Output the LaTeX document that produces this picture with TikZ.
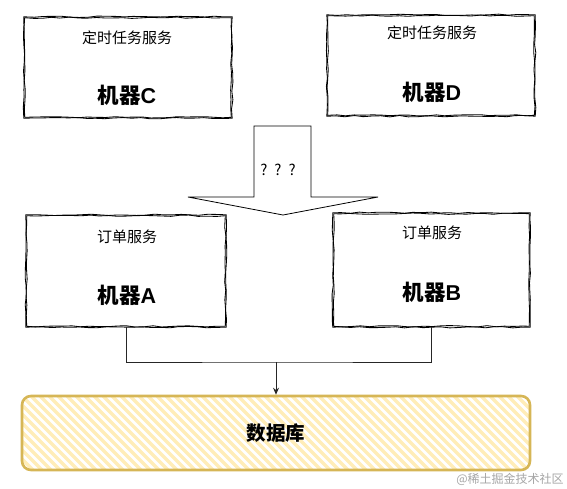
\documentclass[tikz,border=0pt]{standalone}
\usepackage{fontspec}
\setmainfont{Noto Sans CJK SC}
\newfontfamily\latf{Liberation Sans}
\usetikzlibrary{decorations.pathmorphing, arrows.meta}
\definecolor{dbline}{HTML}{D6B656}
\definecolor{stripe}{HTML}{FFEDB8}
\tikzset{
  box/.style={rectangle, draw=none, inner sep=0pt},
  sketch/.style={draw=black, line width=0.85pt, decorate, decoration={random steps, segment length=9pt, amplitude=0.7pt}},
  smalltxt/.style={font=\fontsize{15}{17}\selectfont, inner sep=0pt},
  bigtxt/.style={font=\fontsize{21.5}{25}\selectfont\bfseries, inner sep=0pt},
  conn/.style={draw=black!85, line width=0.9pt},
}
\pgfmathsetseed{7}
\begin{document}
\begin{tikzpicture}[x=1pt,y=-1pt]
\useasboundingbox (0,0) rectangle (567,488);
\fill[white] (0,0) rectangle (567,488);

% boxes
\node[box, minimum width=208pt, minimum height=101pt] (C) at (128,67.5) {};
\node[box, minimum width=208pt, minimum height=101pt] (D) at (431,65.5) {};
\node[box, minimum width=200pt, minimum height=112pt] (A) at (126,271) {};
\node[box, minimum width=197pt, minimum height=114pt] (B) at (431.5,270) {};
\foreach \n in {C,D,A,B}{
  \draw[sketch] (\n.north west) rectangle (\n.south east);
  \draw[sketch] ([shift={(0.9,0.9)}]\n.north west) rectangle ([shift={(-0.9,-0.9)}]\n.south east);
}

\node[smalltxt] (Ct) at (127,38) {定时任务服务};
\node[bigtxt] (Cb) at (127,95) {机器\latf C};
\node[smalltxt] (Dt) at (432,33) {定时任务服务};
\node[bigtxt] (Db) at (432,92) {机器\latf D};
\node[smalltxt] (At) at (127,237) {订单服务};
\node[bigtxt] (Ab) at (127,295) {机器\latf A};
\node[smalltxt] (Bt) at (432,233) {订单服务};
\node[bigtxt] (Bb) at (432,292) {机器\latf B};

% block arrow
\draw[fill=white, line width=0.8pt] (254,126) -- (311,126) -- (311,197) -- (378,197) -- (283,215) -- (188,197) -- (254,197) -- cycle;
\node[smalltxt] (q) at (278,170) {?\hspace{7pt}?\hspace{7pt}?};

% database
\node[rectangle, rounded corners=9pt, draw=dbline, line width=2.6pt, fill=white,
  minimum width=508pt, minimum height=74pt,
  font=\fontsize{19.5}{22}\selectfont\bfseries,
  path picture={\foreach \k in {-12,...,60}{\draw[stripe, line width=3.4pt] ([xshift=\k*9pt]path picture bounding box.north west) -- ++(90,90);}}
  ] (DB) at (276,433) {数据库};

% connectors
\coordinate (J) at (276,362);
\draw[conn] (A.south) |- (J) -| (B.south);
\draw[conn, -{Stealth[length=7pt,width=6pt]}] (J) -- (DB.north);

% watermark
\node[text=black!35, font=\fontsize{12}{14}\selectfont, inner sep=0pt] (wm) at (510,479) {@稀土掘金技术社区};
\end{tikzpicture}
\end{document}
